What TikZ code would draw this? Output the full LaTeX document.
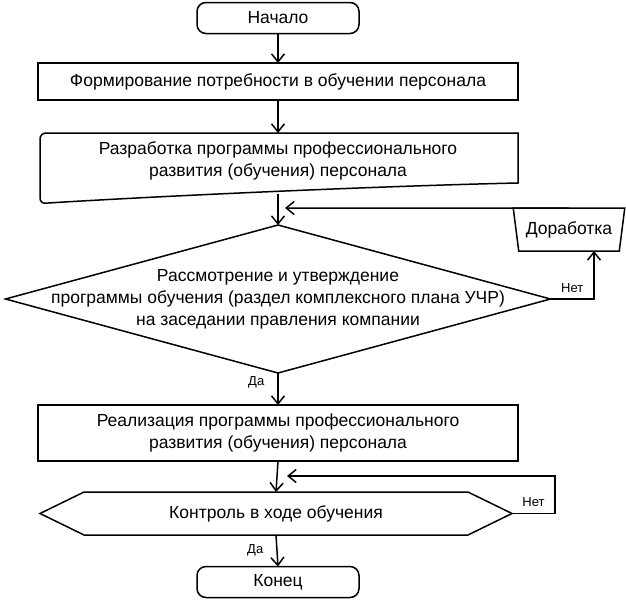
\documentclass[tikz,border=0pt]{standalone}
\usepackage{fontspec}
\setmainfont{Liberation Sans}
\usetikzlibrary{arrows.meta,shapes.geometric,shapes.symbols}
\begin{document}
\begin{tikzpicture}[x=1pt,y=-1pt]
      \tikzset{block/.style={draw, line width=1.5pt, rectangle, inner sep=0pt, outer sep=0pt, align=center, font=\fontsize{17.5}{22}\selectfont},
               term/.style={block, rounded corners=9pt, minimum width=162pt, minimum height=31pt},
               arr/.style={line width=1.5pt, -{Straight Barb[length=8pt,width=13pt,line width=1.5pt]}},
               lbl/.style={font=\fontsize{13}{15}\selectfont, inner sep=1pt}}
      \useasboundingbox (0,0) rectangle (626,600);
%% Blocks
	%start og behov
      	\node[term] (start) at (278,18) {Начало};
      	\node[block, minimum width=480pt, minimum height=37pt] (need) at (278,81.5) {Формирование потребности в обучении персонала};
	%dokument
      	\draw[line width=1.5pt] (40,133) -- (518,133) -- (518,183) .. controls (380,186) and (160,196) .. (48,203)
      		[rounded corners=6pt] -- (40,204) -- cycle;
      	\node[align=center, font=\fontsize{17.5}{22}\selectfont] (dev) at (278,161) {Разработка программы профессионального\\развития (обучения) персонала};
      	\coordinate (devtop) at (278,133);
      	\coordinate (devbot) at (278,194);
	%beslutning
      	\node[draw, diamond, line width=1.5pt, inner sep=0pt, outer sep=0pt, minimum width=545pt, minimum height=148pt] (check) at (278,299) {};
      	\node[align=center, font=\fontsize{17.5}{22}\selectfont] (checktxt) at (check) {Рассмотрение и утверждение\\программы обучения (раздел комплексного плана УЧР)\\на заседании правления компании};
      	\node[block, trapezium, shape border rotate=180, trapezium stretches=true, trapezium left angle=74, trapezium right angle=74,
      		minimum width=112pt, minimum height=43pt] (rework) at (569,229.5) {Доработка};
	%realisering
      	\node[block, minimum width=480pt, minimum height=56pt] (impl) at (278,433) {Реализация программы профессионального\\развития (обучения) персонала};
      	\node[block, signal, signal to=west and east, signal pointer angle=52, minimum width=472pt, minimum height=43pt] (ctrl) at (276,513.5) {Контроль в ходе обучения};
      	\node[term] (finish) at (278,582) {Конец};
	%hjaelpepunkter
      	\coordinate (fb1) at (285,208);
      	\coordinate (no1) at (594,299);
      	\coordinate (no1up) at (594,251);
      	\coordinate (no2a) at (555,513.5);
      	\coordinate (no2b) at (555,476);
      	\coordinate (fb2) at (287,476);
%Edges
		\draw [arr] (start) -- (need);
		\draw [arr] (need) -- (devtop);
		\draw [arr] (devbot) -- (check.north);
		\draw [arr] (rework.north) -- (fb1);
		\draw [arr] (check.east) -- (no1) node[lbl, pos=0.5, above=5pt] {Нет} -- (no1up);
		\draw [arr] (check.south) -- node[lbl, pos=0.3, left=12pt] {Да} (impl.north);
		\draw [arr] (impl.south) -- (ctrl.north);
		\draw [arr] (ctrl.east) -- (no2a) node[lbl, pos=0.5, above=5pt] {Нет} -- (no2b) -- (fb2);
		\draw [arr] (ctrl.south) -- node[lbl, pos=0.5, left=12pt] {Да} (finish.north);

\end{tikzpicture}
\end{document}
